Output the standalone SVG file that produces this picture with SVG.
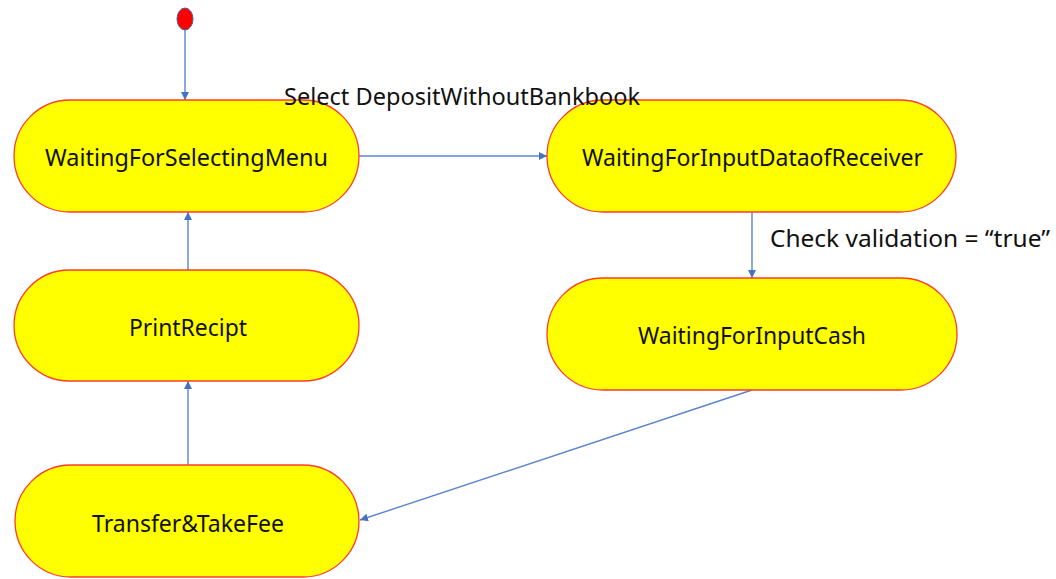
<svg xmlns="http://www.w3.org/2000/svg" width="1056" height="579" viewBox="0 0 1056 579">
<style>
.state{fill:#ffff00;stroke:#ff3c2c;stroke-width:1.3}
.lbl{font-family:"Noto Sans","Liberation Sans",sans-serif;font-size:23.5px;fill:#111;text-anchor:middle;dominant-baseline:central}
.elbl{font-family:"Noto Sans","Liberation Sans",sans-serif;font-size:23.5px;fill:#111}
.conn{stroke:#5b84d0;stroke-width:1.4;fill:none;marker-end:url(#ah)}
</style>
<defs>
<marker id="ah" viewBox="0 0 10 10" refX="10" refY="5" markerWidth="8" markerHeight="8" markerUnits="userSpaceOnUse" orient="auto">
<path d="M0,0 L10,5 L0,10 z" fill="#4472c4"/>
</marker>
</defs>
<rect width="1056" height="579" fill="#fff"/>
<g id="connectors">
<line class="conn" x1="185" y1="30" x2="185" y2="100"/>
<line class="conn" x1="359" y1="156" x2="547" y2="156"/>
<line class="conn" x1="752" y1="212" x2="752" y2="278"/>
<line class="conn" x1="752" y1="390" x2="360" y2="520"/>
<line class="conn" x1="188" y1="465" x2="188" y2="381"/>
<line class="conn" x1="188" y1="270" x2="188" y2="212"/>
</g>
<g id="initial">
<ellipse cx="185" cy="19" rx="8" ry="11" fill="#ff0000" stroke="#4a5fa0" stroke-width="1"/>
</g>
<g id="WaitingForSelectingMenu">
<rect class="state" x="14" y="100" width="345" height="112" rx="56" ry="56"/>
<text class="lbl" x="186.5" y="157" textLength="283" lengthAdjust="spacingAndGlyphs">WaitingForSelectingMenu</text>
</g>
<g id="WaitingForInputDataofReceiver">
<rect class="state" x="547" y="100" width="409" height="112" rx="56" ry="56"/>
<text class="lbl" x="752.5" y="157" textLength="341" lengthAdjust="spacingAndGlyphs">WaitingForInputDataofReceiver</text>
</g>
<g id="WaitingForInputCash">
<rect class="state" x="547" y="278" width="410" height="112" rx="56" ry="56"/>
<text class="lbl" x="752" y="335" textLength="228" lengthAdjust="spacingAndGlyphs">WaitingForInputCash</text>
</g>
<g id="PrintRecipt">
<rect class="state" x="14" y="270" width="345" height="111" rx="55.5" ry="55.5"/>
<text class="lbl" x="188" y="327" textLength="118" lengthAdjust="spacingAndGlyphs">PrintRecipt</text>
</g>
<g id="TransferTakeFee">
<rect class="state" x="15" y="465" width="344" height="112" rx="56" ry="56"/>
<text class="lbl" x="188" y="523" textLength="192" lengthAdjust="spacingAndGlyphs">Transfer&amp;TakeFee</text>
</g>
<g id="connector-labels">
<text class="elbl" x="284" y="105" textLength="356" lengthAdjust="spacingAndGlyphs">Select DepositWithoutBankbook</text>
<text class="elbl" x="770" y="247" textLength="280" lengthAdjust="spacingAndGlyphs">Check validation = “true”</text>
</g>
</svg>
